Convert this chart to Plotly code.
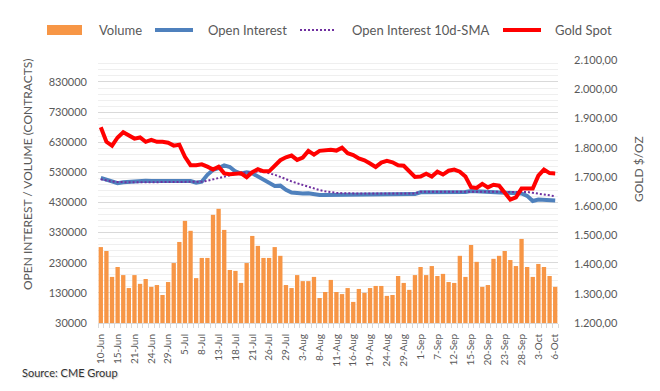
import plotly.graph_objects as go

dates = ["10-Jun","13-Jun","14-Jun","15-Jun","16-Jun","17-Jun","21-Jun","22-Jun","23-Jun","24-Jun",
         "27-Jun","28-Jun","29-Jun","30-Jun","1-Jul","5-Jul","6-Jul","7-Jul","8-Jul","11-Jul",
         "12-Jul","13-Jul","14-Jul","15-Jul","18-Jul","19-Jul","20-Jul","21-Jul","22-Jul","25-Jul",
         "26-Jul","27-Jul","28-Jul","29-Jul","1-Aug","2-Aug","3-Aug","4-Aug","5-Aug","8-Aug",
         "9-Aug","10-Aug","11-Aug","12-Aug","15-Aug","16-Aug","17-Aug","18-Aug","19-Aug","22-Aug",
         "23-Aug","24-Aug","25-Aug","26-Aug","29-Aug","30-Aug","31-Aug","1-Sep","2-Sep","6-Sep",
         "7-Sep","8-Sep","9-Sep","12-Sep","13-Sep","14-Sep","15-Sep","16-Sep","19-Sep","20-Sep",
         "21-Sep","22-Sep","23-Sep","26-Sep","27-Sep","28-Sep","29-Sep","30-Sep","3-Oct","4-Oct",
         "5-Oct","6-Oct"]

volume = [282000,269000,183000,216000,189000,146000,189000,160000,176000,150000,
          156000,123000,166000,229000,299000,369000,336000,179000,246000,246000,
          389000,409000,339000,206000,203000,163000,229000,319000,286000,246000,
          246000,282000,253000,156000,146000,189000,169000,169000,183000,113000,
          133000,173000,133000,126000,146000,100000,143000,130000,146000,153000,
          153000,120000,123000,186000,163000,140000,189000,216000,189000,219000,
          186000,193000,166000,163000,253000,183000,289000,233000,150000,156000,
          243000,253000,269000,239000,219000,309000,216000,183000,226000,216000,
          186000,150000]

open_interest = [512000,505000,500000,494000,497000,499000,501000,502000,502000,501000,
                 501000,500000,500000,500000,498000,499000,501000,496000,499000,522000,
                 538000,544000,553000,548000,533000,526000,530000,527000,516000,508000,
                 496000,485000,486000,472000,463000,460000,460000,461000,457000,455000,
                 455000,455000,456000,456000,455000,455000,455000,455000,455000,455000,
                 455000,455000,455000,455000,455000,455000,458000,464000,464000,464000,
                 464000,464000,464000,464000,464000,465000,468000,467000,468000,468000,
                 467000,466000,464000,464000,463000,460000,452000,435000,440000,439000,
                 435000,437000]

oi_sma10 = [507000,503000,500000,498000,497000,497000,497000,497000,497000,497000,
            497000,497000,497000,497000,497000,497000,497000,497000,499000,502000,
            507000,512000,517000,521000,525000,528000,530000,532000,533000,532000,
            528000,522000,515000,507000,500000,494000,488000,482000,476000,471000,
            467000,464000,462000,461000,460000,460000,460000,460000,460000,460000,
            460000,460000,460000,460000,460000,460000,460000,466000,466000,466000,
            466000,466000,466000,466000,466000,466000,466000,466000,466000,466000,
            466000,466000,466000,466000,466000,466000,465000,462000,459000,456000,
            454000,451000]

gold_spot = [1870,1820,1807,1835,1853,1842,1831,1835,1820,1827,
             1820,1820,1817,1807,1810,1769,1740,1740,1743,1735,
             1725,1735,1712,1709,1709,1712,1699,1716,1726,1719,
             1719,1740,1757,1767,1773,1758,1766,1789,1776,1789,
             1792,1793,1790,1800,1781,1775,1763,1757,1746,1734,
             1749,1755,1750,1740,1738,1721,1700,1701,1711,1701,
             1718,1708,1721,1725,1718,1701,1665,1662,1676,1664,
             1673,1670,1645,1622,1630,1660,1660,1660,1704,1725,
             1713,1712]

left_ticks = [30000,130000,230000,330000,430000,530000,630000,730000,830000]
right_ticks = [1200,1300,1400,1500,1600,1700,1800,1900,2000,2100]

legend_names = ["Volume", "Open Interest", "Open Interest 10d-SMA", "Gold Spot"]

FONT = "Lato"
GREY = "#595959"
OFF = 8                      # page body margin
W, H = 660 - 2 * OFF, 391 - 2 * OFF
L, R, T, B = 98 - OFF, 558 - OFF, 60 - OFF, 323 - OFF

def px_x(p):                 # page pixel -> paper coordinate
    return (p - OFF - L) / (R - L)

def px_y(p):
    return (B - (p - OFF)) / (B - T)

xs = list(range(len(dates)))
DOT = "2px,2px"

fig = go.Figure()
fig.add_trace(go.Bar(x=xs, y=volume, name=legend_names[0], marker=dict(color="#F79646", line=dict(width=0)),
                     yaxis="y", showlegend=False))
fig.add_trace(go.Scatter(x=xs, y=open_interest, name=legend_names[1], mode="lines",
                         line=dict(color="#4F81BD", width=4), yaxis="y", showlegend=False))
fig.add_trace(go.Scatter(x=xs, y=oi_sma10, name=legend_names[2], mode="lines",
                         line=dict(color="#7030A0", width=2, dash=DOT), yaxis="y", showlegend=False))
fig.add_trace(go.Scatter(x=xs, y=gold_spot, name=legend_names[3], mode="lines",
                         line=dict(color="#FF0000", width=4), yaxis="y2", showlegend=False))

shapes = [
    dict(type="rect", xref="paper", yref="paper", x0=px_x(47), x1=px_x(82), y0=px_y(35), y1=px_y(25),
         fillcolor="#F79646", line=dict(width=0)),
    dict(type="line", xref="paper", yref="paper", x0=px_x(155), x1=px_x(193), y0=px_y(30), y1=px_y(30),
         line=dict(color="#4F81BD", width=4)),
    dict(type="line", xref="paper", yref="paper", x0=px_x(300), x1=px_x(336), y0=px_y(30), y1=px_y(30),
         line=dict(color="#7030A0", width=2, dash=DOT)),
    dict(type="line", xref="paper", yref="paper", x0=px_x(503), x1=px_x(541), y0=px_y(30), y1=px_y(30),
         line=dict(color="#FF0000", width=4)),
]
annotations = []
for name, xp in zip(legend_names, [97, 206, 350, 553]):
    annotations.append(dict(text=name, xref="paper", yref="paper", x=px_x(xp), y=px_y(30),
                            xanchor="left", yanchor="middle", showarrow=False,
                            font=dict(family=FONT, size=13, color=GREY)))
annotations.append(dict(text="OPEN INTEREST / VOLUME (CONTRACTS)", xref="paper", yref="paper",
                        x=px_x(27), y=px_y(174), textangle=-90, showarrow=False,
                        xanchor="center", yanchor="middle",
                        font=dict(family=FONT, size=12, color=GREY)))
annotations.append(dict(text="GOLD $/OZ", xref="paper", yref="paper",
                        x=px_x(638), y=px_y(169), textangle=-90, showarrow=False,
                        xanchor="center", yanchor="middle",
                        font=dict(family=FONT, size=12, color=GREY)))
annotations.append(dict(text="Source: CME Group", xref="paper", yref="paper",
                        x=px_x(20), y=px_y(372), xanchor="left", yanchor="middle", showarrow=False,
                        font=dict(family=FONT, size=11, color="#333333", shadow="1px 1px 1px #d0d0d0")))

fig.update_layout(
    width=W, height=H,
    margin=dict(l=L, r=W - R, t=T, b=H - B, pad=0),
    paper_bgcolor="white", plot_bgcolor="white",
    separators=",.",
    bargap=0.23,
    font=dict(family=FONT, color=GREY),
    shapes=shapes, annotations=annotations,
    xaxis=dict(range=[-0.5, len(dates) - 0.5], tickvals=xs[::3], ticktext=dates[::3],
               tickangle=-90, tickfont=dict(size=10, color=GREY), showgrid=False,
               showline=True, linecolor="#d9d9d9", linewidth=1, ticks="", zeroline=False,
               ticklabelstandoff=6,
               minor=dict(ticks="outside", tick0=-0.5, dtick=1, ticklen=4, tickcolor="#d9d9d9",
                          showgrid=False)),
    yaxis=dict(range=[30000, 903000], tickvals=left_ticks, tickformat="d",
               tickfont=dict(size=11, color=GREY), showgrid=True, gridcolor="#d9d9d9",
               zeroline=False, showline=False, ticks="", ticklabelstandoff=10,
               minor=dict(tick0=30000, dtick=20000, showgrid=True, gridcolor="#efefef")),
    yaxis2=dict(range=[1200, 2100], tickvals=right_ticks, tickformat=",.2f", overlaying="y",
                side="right", showgrid=False, zeroline=False, showline=False, ticks="",
                tickfont=dict(size=11, color=GREY), ticklabelstandoff=15),
)

fig.write_html("out.html")
